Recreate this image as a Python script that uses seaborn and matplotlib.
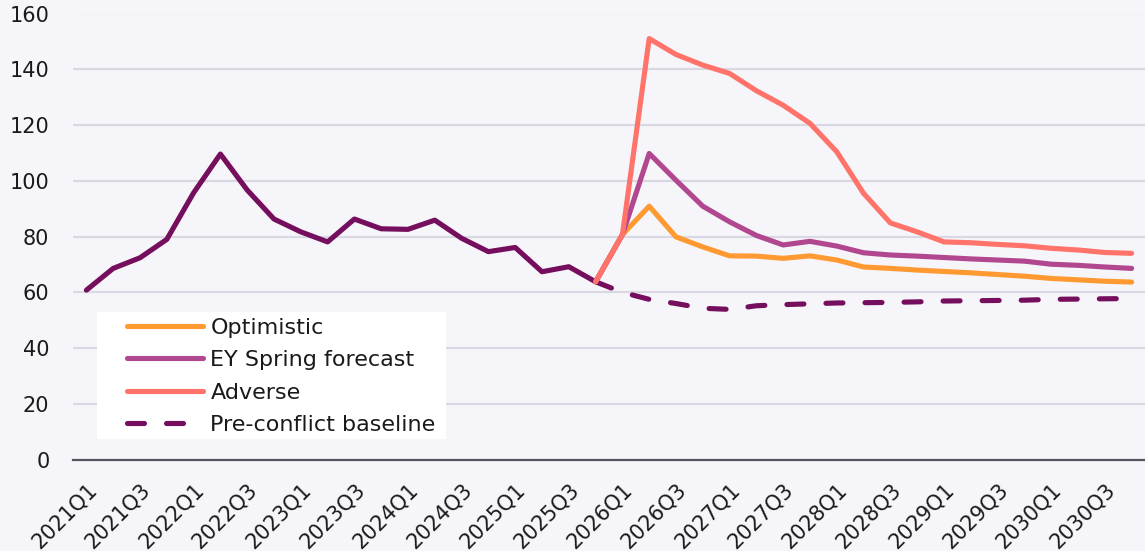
import matplotlib
matplotlib.use("Agg")
import matplotlib.pyplot as plt
from matplotlib.patches import Rectangle
import seaborn as sns
import pandas as pd
import numpy as np

# ---------------- data ----------------
quarters = [f"{y}Q{q}" for y in range(2021, 2031) for q in range(1, 5)]

historical = [60.8, 68.6, 72.4, 79.0, 95.7, 109.6, 96.7, 86.3, 81.7, 78.1,
              86.3, 82.8, 82.6, 85.9, 79.4, 74.6, 76.1, 67.4, 69.2, 63.8]

# scenarios start at 2025Q4 (index 19) and run to 2030Q4
optimistic = [63.8, 80.7, 90.9, 79.9, 76.3, 73.1, 73.0, 72.2, 73.1, 71.6,
              69.1, 68.6, 68.0, 67.5, 67.0, 66.4, 65.8, 65.0, 64.5, 64.0, 63.7]
ey_spring = [63.8, 80.7, 109.8, 100.2, 90.9, 85.3, 80.4, 77.0, 78.3, 76.6,
             74.2, 73.4, 73.0, 72.5, 72.0, 71.6, 71.2, 70.1, 69.7, 69.1, 68.6]
adverse = [63.8, 80.7, 151.0, 145.3, 141.5, 138.5, 132.3, 127.1, 120.6, 110.4,
           95.5, 84.9, 81.7, 78.1, 77.8, 77.2, 76.7, 75.8, 75.2, 74.3, 74.0]
baseline = [63.8, 60.0, 57.5, 56.0, 54.3, 53.9, 55.2, 55.6, 55.9, 56.2,
            56.3, 56.4, 56.6, 56.9, 57.0, 57.1, 57.2, 57.5, 57.6, 57.7, 57.8]

y_ticks = [0, 20, 40, 60, 80, 100, 120, 140, 160]

# ---------------- colours / style ----------------
C_HIST = "#750E5C"
C_OPT = "#FF9A33"
C_EY = "#B1488F"
C_ADV = "#FF736A"
BG = "#F6F6FA"
GRID = "#DAD9E3"
TXT = "#1A1A1A"

sns.set_theme(style="whitegrid")
plt.rcParams["font.family"] = ["DejaVu Sans"]

fig = plt.figure(figsize=(11.45, 5.51), dpi=100, facecolor=BG)
ax = fig.add_axes([73 / 1145, 1 - 459.7 / 551, 1 - 73 / 1145, (459.7 - 13.5) / 551])
ax.set_facecolor(BG)

n_hist = len(historical)
start = n_hist - 1
hist_df = pd.DataFrame({"q": np.arange(n_hist), "v": historical})
scen_idx = np.arange(start, start + len(optimistic))

lw = 3.7
sns.lineplot(data=hist_df, x="q", y="v", ax=ax, color=C_HIST, lw=lw,
             solid_capstyle="round", solid_joinstyle="round", zorder=3)

base_df = pd.DataFrame({"q": scen_idx, "v": baseline})
sns.lineplot(data=base_df, x="q", y="v", ax=ax, color=C_HIST, lw=lw,
             dashes=False, zorder=3, label="Pre-conflict baseline")
base_line = ax.lines[-1]
base_line.set_linestyle((0, (3.3, 4.3)))
base_line.set_dash_capstyle("round")

for vals, col, lab, z in [(optimistic, C_OPT, "Optimistic", 4),
                          (ey_spring, C_EY, "EY Spring forecast", 5),
                          (adverse, C_ADV, "Adverse", 6)]:
    df = pd.DataFrame({"q": scen_idx, "v": vals})
    sns.lineplot(data=df, x="q", y="v", ax=ax, color=col, lw=lw,
                 solid_capstyle="round", solid_joinstyle="round",
                 zorder=z, label=lab)

# ---------------- axes ----------------
ax.set_xlim(-0.5, len(quarters) - 0.5)
ax.set_ylim(0, 160)
ax.set_yticks(y_ticks)
ax.set_yticklabels([str(t) for t in y_ticks])
ax.set_xticks(np.arange(0, len(quarters), 2))
ax.set_xticklabels(quarters[::2], rotation=45, ha="right", va="top",
                   rotation_mode="anchor")
ax.set_xlabel("")
ax.set_ylabel("")

ax.grid(axis="y", color=GRID, lw=1.6)
ax.grid(axis="x", visible=False)
for s in ["top", "right", "left"]:
    ax.spines[s].set_visible(False)
ax.spines["bottom"].set_color("#55555F")
ax.spines["bottom"].set_linewidth(1.6)
ax.set_axisbelow(True)

ax.tick_params(axis="y", length=0, pad=17, labelsize=15, labelcolor=TXT)
ax.tick_params(axis="x", length=0, pad=14, labelsize=15, labelcolor=TXT)

# ---------------- legend ----------------
handles, labels = ax.get_legend_handles_labels()
order = ["Optimistic", "EY Spring forecast", "Adverse", "Pre-conflict baseline"]
hmap = dict(zip(labels, handles))
ax.add_patch(Rectangle((0.0224, 0.0457), 0.3256, 0.286, transform=ax.transAxes,
                       facecolor="white", edgecolor="none", zorder=7))
leg = ax.legend([hmap[l] for l in order], order, loc="upper left",
                bbox_to_anchor=(0.0504, 0.318), borderpad=0, borderaxespad=0,
                frameon=False, fontsize=16, handlelength=3.4,
                handletextpad=0.35, labelspacing=0.56)
leg.set_zorder(8)
for t in leg.get_texts():
    t.set_color(TXT)

fig.savefig("out.png", dpi=100, facecolor=BG)
